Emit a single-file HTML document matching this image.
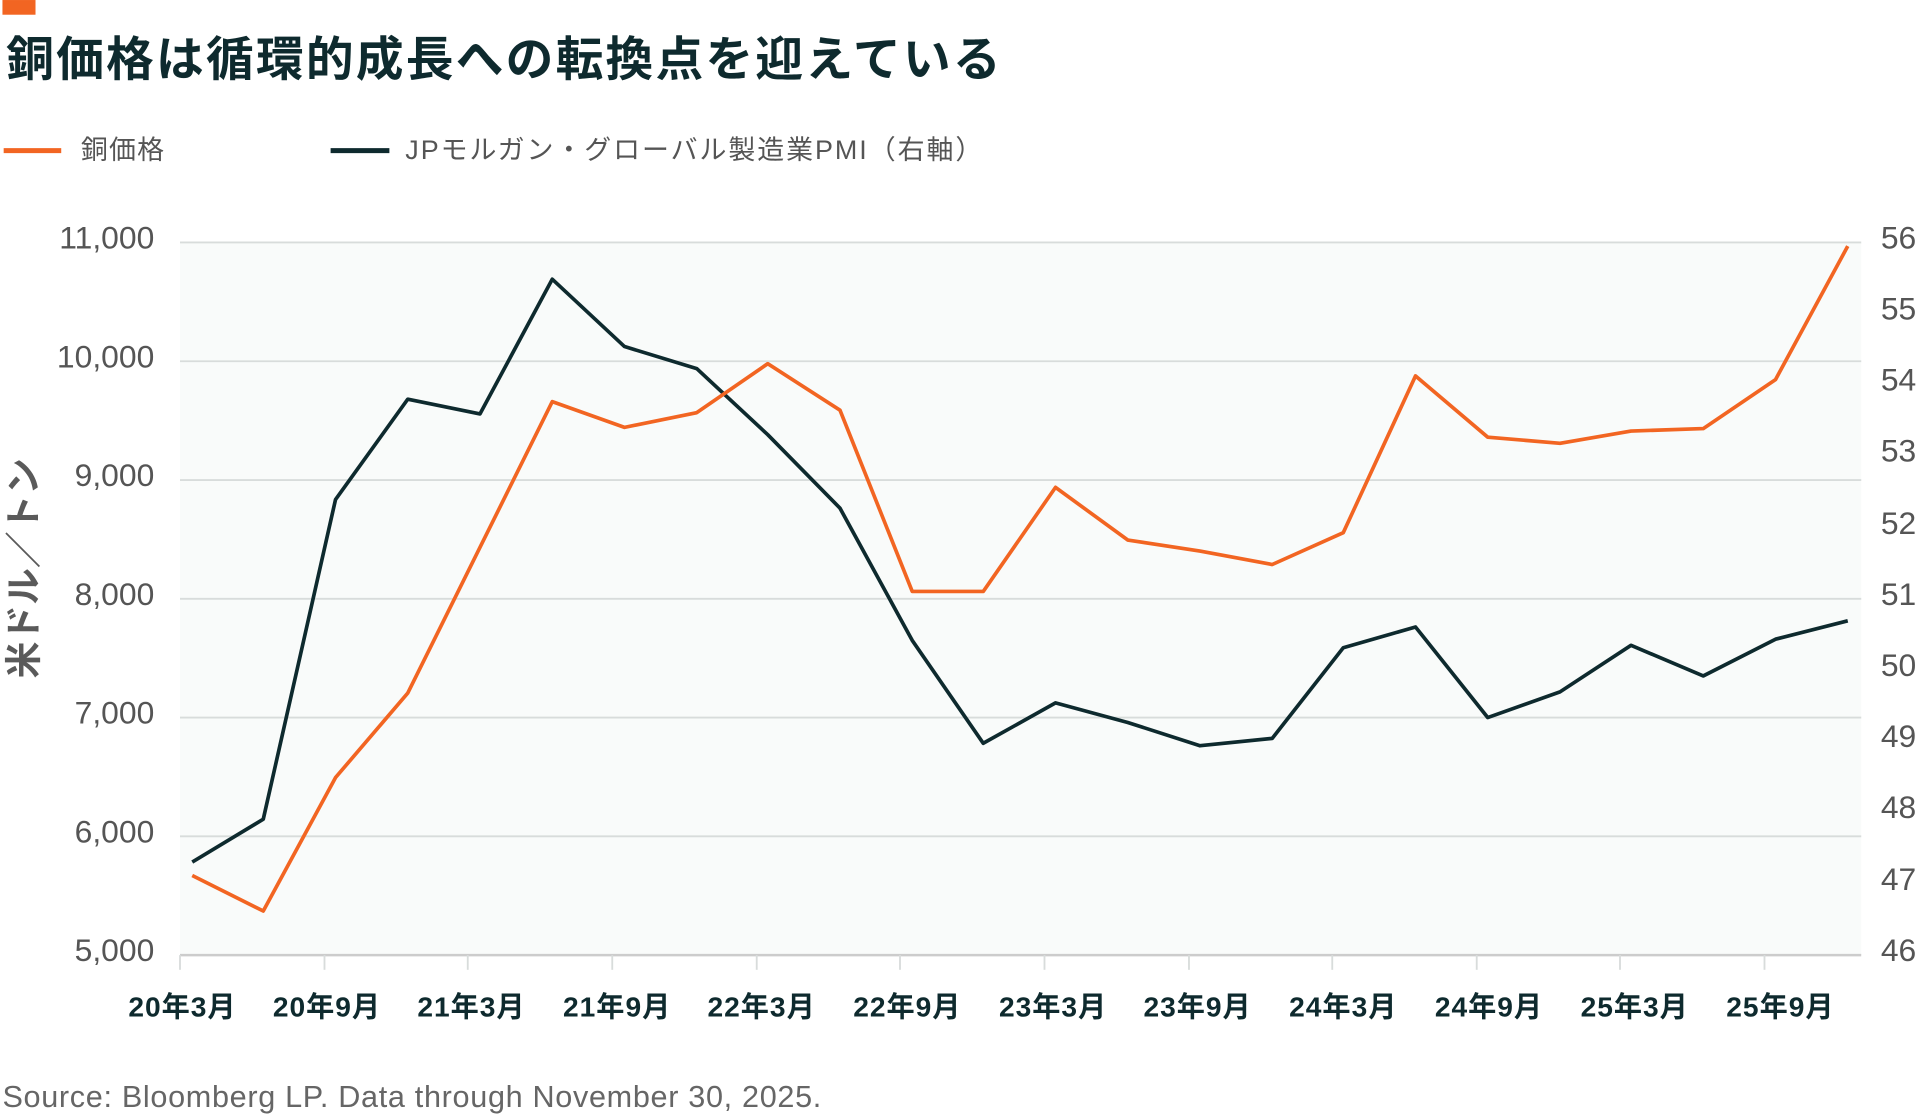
<!DOCTYPE html>
<html><head><meta charset="utf-8"><style>
html,body{margin:0;padding:0;background:#fff;}
svg{display:block;}
text{font-family:"Liberation Sans","Noto Sans CJK JP",sans-serif;}
</style></head><body>
<svg width="1920" height="1118" viewBox="0 0 1568 913" xmlns="http://www.w3.org/2000/svg">
<rect x="2" y="0" width="27" height="12" fill="#f26522"/>
<text x="5" y="62" font-size="39" font-weight="bold" fill="#0e2a2e" letter-spacing="1.8" style="font-family:'Noto Sans CJK JP',sans-serif">銅価格は循環的成長への転換点を迎えている</text>
<line x1="3" y1="123" x2="50" y2="123" stroke="#f26522" stroke-width="4"/>
<text x="66" y="130" font-size="22" fill="#555" letter-spacing="1">銅価格</text>
<line x1="270" y1="123" x2="318" y2="123" stroke="#0e2a2e" stroke-width="4"/>
<text x="331" y="130" font-size="22" fill="#555" letter-spacing="1.6">JPモルガン・グローバル製造業PMI（右軸）</text>
<rect x="147" y="198" width="1373" height="582" fill="#f9fbfa"/>
<g stroke="#d8dcdb" stroke-width="1.5">
<line x1="147" y1="198" x2="1520" y2="198"/>
<line x1="147" y1="295" x2="1520" y2="295"/>
<line x1="147" y1="392" x2="1520" y2="392"/>
<line x1="147" y1="489" x2="1520" y2="489"/>
<line x1="147" y1="586" x2="1520" y2="586"/>
<line x1="147" y1="683" x2="1520" y2="683"/>
<line x1="147" y1="780" x2="1520" y2="780" stroke="#ccc" stroke-width="2"/>
<line x1="147" y1="780" x2="147" y2="792"/><line x1="265" y1="780" x2="265" y2="792"/><line x1="382" y1="780" x2="382" y2="792"/><line x1="500" y1="780" x2="500" y2="792"/><line x1="618" y1="780" x2="618" y2="792"/><line x1="735" y1="780" x2="735" y2="792"/><line x1="853" y1="780" x2="853" y2="792"/><line x1="971" y1="780" x2="971" y2="792"/><line x1="1088" y1="780" x2="1088" y2="792"/><line x1="1206" y1="780" x2="1206" y2="792"/><line x1="1323" y1="780" x2="1323" y2="792"/><line x1="1441" y1="780" x2="1441" y2="792"/>
</g>
<g font-size="26" fill="#555" text-anchor="end">
<text x="126" y="203">11,000</text><text x="126" y="300">10,000</text><text x="126" y="397">9,000</text><text x="126" y="494">8,000</text><text x="126" y="591">7,000</text><text x="126" y="688">6,000</text><text x="126" y="785">5,000</text>
</g>
<g font-size="26" fill="#555">
<text x="1536" y="203">56</text><text x="1536" y="261">55</text><text x="1536" y="319">54</text><text x="1536" y="377">53</text><text x="1536" y="436">52</text><text x="1536" y="494">51</text><text x="1536" y="552">50</text><text x="1536" y="610">49</text><text x="1536" y="668">48</text><text x="1536" y="727">47</text><text x="1536" y="785">46</text>
</g>
<text transform="translate(30,464) rotate(-90)" text-anchor="middle" font-size="30" font-weight="bold" fill="#5a5a5a" style="font-family:'Noto Sans CJK JP',sans-serif">米ドル／トン</text>
<g font-size="23" font-weight="bold" fill="#0e2a2e" text-anchor="middle" letter-spacing="0.8">
<text x="149" y="830">20年3月</text><text x="267" y="830">20年9月</text><text x="385" y="830">21年3月</text><text x="504" y="830">21年9月</text><text x="622" y="830">22年3月</text><text x="741" y="830">22年9月</text><text x="860" y="830">23年3月</text><text x="978" y="830">23年9月</text><text x="1097" y="830">24年3月</text><text x="1216" y="830">24年9月</text><text x="1335" y="830">25年3月</text><text x="1454" y="830">25年9月</text>
</g>
<polyline fill="none" stroke="#0e2a2e" stroke-width="3" stroke-linejoin="round" points="157,704 215,669 274,408 333,326 392,338 451,228 510,283 569,301 627,355 686,415 745,523 803,607 862,574 921,590 980,609 1039,603 1097,529 1156,512 1215,586 1274,565 1332,527 1391,552 1450,522 1509,507"/>
<polyline fill="none" stroke="#f26522" stroke-width="3" stroke-linejoin="round" points="157,715 215,744 274,635 333,566 392,447 451,328 510,349 569,337 627,297 686,335 745,483 803,483 862,398 921,441 980,450 1039,461 1097,435 1156,307 1215,357 1274,362 1332,352 1391,350 1450,310 1509,201"/>
<text x="2" y="904" font-size="25" fill="#666" letter-spacing="0.55">Source: Bloomberg LP. Data through November 30, 2025.</text>
</svg>
</body></html>
